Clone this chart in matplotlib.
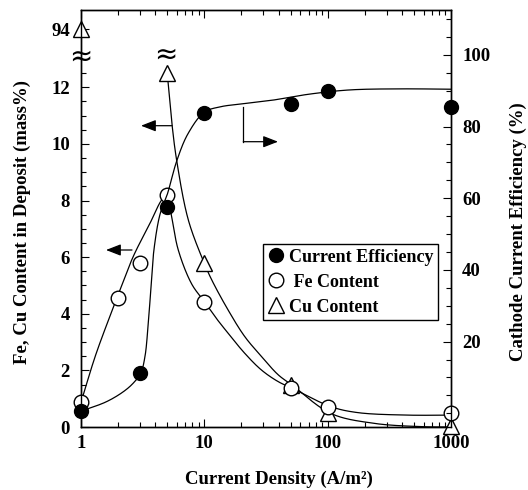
import numpy as np
import matplotlib
matplotlib.use("Agg")
import matplotlib.pyplot as plt
from matplotlib.ticker import FixedLocator, NullFormatter, LogLocator

plt.rcParams['font.family'] = ['Liberation Serif', 'DejaVu Serif']
plt.rcParams['font.weight'] = 'bold'

# ---------------- data ----------------
current_density = [1, 3, 5, 10, 50, 100, 1000]           # A/m2
current_eff = [0.6, 11.2, 57.5, 83.7, 86.2, 89.9, 85.5]  # %

fe_x = [1, 2, 3, 5, 10, 50, 100, 1000]
fe_content = [0.87, 4.55, 5.8, 8.2, 4.43, 1.37, 0.72, 0.51]  # mass%

cu_x = [1, 5, 10, 50, 100, 1000]
cu_content = [94, 12.5, 5.78, 1.48, 0.48, 0.03]  # mass%

# smooth guide curves drawn in the original (knots)
ce_curve_x = [1, 1.6, 2.2, 2.65, 3.05, 3.3, 3.51, 3.7, 3.9, 4.37, 5.0, 6.0, 7.4, 10, 13.5, 20, 35, 70, 150, 400, 1000]
ce_curve_y = [0.6, 3.2, 6.0, 8.4, 11.2, 15.8, 25.1, 35.5, 45.5, 55.5, 61.0, 70.6, 78.1, 84.0, 85.5, 86.3, 87.3, 89.0, 90.2, 90.5, 90.4]

fe_curve_x = [1, 1.30, 1.67, 2.07, 2.65, 3.63, 4.51, 5.0, 5.43, 6.15, 7.9, 10, 12.2, 15.6, 21.3, 29.1, 39.8, 51.5, 106, 174, 444, 1000]
fe_curve_y = [0.87, 2.48, 3.78, 4.84, 6.02, 7.2, 8.02, 8.2, 7.43, 6.25, 5.05, 4.43, 3.9, 3.31, 2.6, 2.01, 1.6, 1.37, 0.72, 0.51, 0.42, 0.42]

cu_curve_x = [5, 5.45, 5.96, 7.42, 10, 11.5, 15.6, 21.3, 29.1, 39.8, 51.5, 106, 237, 605, 1000]
cu_curve_y = [12.5, 10.75, 9.43, 7.31, 5.78, 5.19, 4.13, 3.19, 2.49, 1.84, 1.48, 0.48, 0.13, 0.01, 0.0]

left_ticks = [0, 2, 4, 6, 8, 10, 12]
break_label = "94"
break_pos = 14.05   # plotted position of the broken-axis value 94
right_ticks = [20, 40, 60, 80, 100]


def smooth(xs, ys, sx, sy, n=40):
    """centripetal Catmull-Rom through the knots (log-x space)."""
    P = np.column_stack([np.log10(xs) * sx, np.asarray(ys, float) * sy])
    P = np.vstack([2 * P[0] - P[1], P, 2 * P[-1] - P[-2]])
    out = []
    for i in range(1, len(P) - 2):
        p0, p1, p2, p3 = P[i - 1], P[i], P[i + 1], P[i + 2]
        t0 = 0.0
        t1 = t0 + np.linalg.norm(p1 - p0) ** 0.5 + 1e-9
        t2 = t1 + np.linalg.norm(p2 - p1) ** 0.5 + 1e-9
        t3 = t2 + np.linalg.norm(p3 - p2) ** 0.5 + 1e-9
        t = np.linspace(t1, t2, n)[:, None]
        A1 = (t1 - t) / (t1 - t0) * p0 + (t - t0) / (t1 - t0) * p1
        A2 = (t2 - t) / (t2 - t1) * p1 + (t - t1) / (t2 - t1) * p2
        A3 = (t3 - t) / (t3 - t2) * p2 + (t - t2) / (t3 - t2) * p3
        B1 = (t2 - t) / (t2 - t0) * A1 + (t - t0) / (t2 - t0) * A2
        B2 = (t3 - t) / (t3 - t1) * A2 + (t - t1) / (t3 - t1) * A3
        C = (t2 - t) / (t2 - t1) * B1 + (t - t1) / (t2 - t1) * B2
        out.append(C)
    C = np.vstack(out)
    return 10 ** (C[:, 0] / sx), C[:, 1] / sy


fig = plt.figure(figsize=(5.28, 4.90), dpi=100)
ax = fig.add_axes([81 / 528, 1 - 427 / 490, 370 / 528, 417 / 490])
ax2 = ax.twinx()

lw = 0.9
cx, cy = smooth(fe_curve_x, fe_curve_y, 123.3, 28.3)
ax.plot(cx, cy, color='black', lw=lw, zorder=2)
cx, cy = smooth(cu_curve_x, cu_curve_y, 123.3, 28.3)
ax.plot(cx, cy, color='black', lw=lw, zorder=2)
cx, cy = smooth(ce_curve_x, ce_curve_y, 123.3, 3.585)
ax2.plot(cx, cy, color='black', lw=lw, zorder=2)

cu_plot = [break_pos if v > 14 else v for v in cu_content]
h_cu, = ax.plot(cu_x, cu_plot, linestyle='none', marker='^', ms=11, mfc='white',
                mec='black', mew=1.0, clip_on=False, zorder=4, label='Cu Content')
h_fe, = ax.plot(fe_x, fe_content, linestyle='none', marker='o', ms=10.5, mfc='white',
                mec='black', mew=1.0, clip_on=False, zorder=4, label=' Fe Content')
h_ce, = ax2.plot(current_density, current_eff, linestyle='none', marker='o', ms=10,
                 mfc='black', mec='black', clip_on=False, zorder=5, label='Current Efficiency')

ax.set_xscale('log')
ax.set_xlim(1, 1000)
ax.set_ylim(0, 14.73)
ax2.set_ylim(-3.82, 112.5)
ax.set_zorder(1)
ax2.set_zorder(2)
ax2.patch.set_visible(False)

ax.xaxis.set_major_locator(FixedLocator([1, 10, 100, 1000]))
ax.set_xticklabels(['1', '10', '100', '1000'])
ax.xaxis.set_minor_locator(LogLocator(base=10, subs=np.arange(2, 10)))
ax.xaxis.set_minor_formatter(NullFormatter())

ax.yaxis.set_major_locator(FixedLocator(left_ticks + [break_pos]))
ax.set_yticklabels([str(t) for t in left_ticks] + [break_label])
ax.yaxis.set_minor_locator(FixedLocator(list(np.arange(0, 13.01, 0.5))))

ax2.yaxis.set_major_locator(FixedLocator(right_ticks))
ax2.set_yticklabels([str(t) for t in right_ticks])
ax2.yaxis.set_minor_locator(FixedLocator(list(np.arange(0, 111, 5))))

tick_fs = 13.5
ax.tick_params(which='both', direction='in', top=True, right=False, labelsize=tick_fs, width=0.8)
ax.tick_params(which='major', length=6, pad=6)
ax.tick_params(which='minor', length=3.5)
ax.tick_params(axis='y', which='major', pad=8)
ax2.tick_params(which='both', direction='in', labelsize=tick_fs, width=0.8)
ax2.tick_params(which='major', length=6, pad=8)
ax2.tick_params(which='minor', length=3.5)
for a in (ax, ax2):
    for lab in a.get_xticklabels() + a.get_yticklabels():
        lab.set_fontweight('bold')
    for s in a.spines.values():
        s.set_linewidth(1.0)

ax.set_xlabel('Current Density (A/m²)', fontsize=13.5, fontweight='bold')
ax.xaxis.set_label_coords((279 - 81) / 370, -(479 - 427) / 417)
ax.xaxis.label.set_va('center')
ax.set_ylabel('Fe, Cu Content in Deposit (mass%)', fontsize=13.5, fontweight='bold')
ax.yaxis.set_label_coords((22 - 81) / 370, (427 - 222) / 417)
ax.yaxis.label.set_va('center')
ax2.set_ylabel('Cathode Current Efficiency (%)', fontsize=13.5, fontweight='bold')
ax2.yaxis.set_label_coords((518 - 81) / 370, (427 - 232) / 417)
ax2.yaxis.label.set_va('center')

# break marks
for (bx, by) in [(1, 13.07), (4.85, 13.14)]:
    ax.text(bx, by, '≈', fontsize=20, family='DejaVu Sans', fontweight='normal',
            ha='center', va='center', zorder=6, clip_on=False)

def af(X, Y):
    return ((X - 81) / 370, (427 - Y) / 417)

arrow_kw = dict(arrowstyle='-|>,head_length=0.9,head_width=0.35', color='black', lw=0.9,
                shrinkA=0, shrinkB=0)
ax.annotate('', xy=af(106, 250), xytext=af(132, 250), xycoords='axes fraction',
            textcoords='axes fraction', arrowprops=arrow_kw, zorder=6)
ax.annotate('', xy=af(141, 125.7), xytext=af(172, 125.7), xycoords='axes fraction',
            textcoords='axes fraction', arrowprops=arrow_kw, zorder=6)
x0, y0 = af(243.3, 106.7)
x1, y1 = af(243.3, 141.7)
ax.plot([x0, x1], [y0, y1], color='black', lw=0.9, transform=ax.transAxes)
ax.annotate('', xy=af(278, 141.7), xytext=(x1, y1), xycoords='axes fraction',
            textcoords='axes fraction', arrowprops=arrow_kw, zorder=6)

leg = ax2.legend(handles=[h_ce, h_fe, h_cu], loc='upper left',
                 bbox_to_anchor=(262.7 / 528, 1 - 244 / 490), bbox_transform=fig.transFigure,
                 prop={'family': 'Liberation Serif', 'weight': 'bold', 'size': 13},
                 frameon=True, fancybox=False, framealpha=1, edgecolor='black',
                 borderpad=0.25, handletextpad=0.2, labelspacing=0.45, handlelength=1.0,
                 borderaxespad=0)
leg.get_frame().set_linewidth(1.0)

fig.savefig('out.png', dpi=100)
